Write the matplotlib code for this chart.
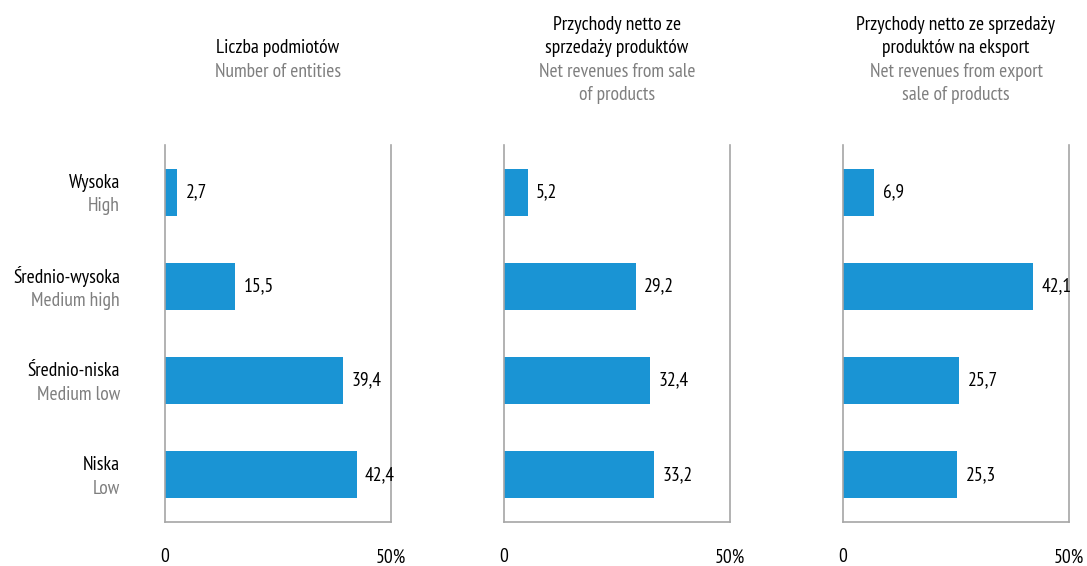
import matplotlib

matplotlib.use("Agg")
import matplotlib.pyplot as plt

# --------------------------------------------------------------------------- #
# Data
# --------------------------------------------------------------------------- #
levels_pl = ["Wysoka", "Średnio-wysoka", "Średnio-niska", "Niska"]
levels_en = ["High", "Medium high", "Medium low", "Low"]

titles_pl = [
    ["Liczba podmiotów"],
    ["Przychody netto ze", "sprzedaży produktów"],
    ["Przychody netto ze sprzedaży", "produktów na eksport"],
]
titles_en = [
    ["Number of entities"],
    ["Net revenues from sale", "of products"],
    ["Net revenues from export", "sale of products"],
]

entities = [2.7, 15.5, 39.4, 42.4]
revenues = [5.2, 29.2, 32.4, 33.2]
export = [6.9, 42.1, 25.7, 25.3]
series = [entities, revenues, export]

# --------------------------------------------------------------------------- #
# Style
# --------------------------------------------------------------------------- #
plt.rcParams["font.family"] = ["PT Sans Narrow", "DejaVu Sans"]
BAR = "#1a94d4"
GREY_TXT = "#7f7f7f"
SPINE = "#a6a6a6"
FS = 14

W, H = 1087, 566
fig = plt.figure(figsize=(W / 100, H / 100), dpi=100)

lefts_px = [165, 504, 843]
ax_w, top_px, bot_px = 226, 145, 522
ypos = list(range(len(levels_pl)))[::-1]  # top row first

for k, (vals, left) in enumerate(zip(series, lefts_px)):
    ax = fig.add_axes([left / W, 1 - bot_px / H, ax_w / W, (bot_px - top_px) / H])
    ax.barh(ypos, vals, height=0.5, color=BAR)
    ax.set_xlim(0, 50)
    ax.set_ylim(-0.5, 3.5)
    ax.set_yticks([])
    ax.set_xticks([0, 50], ["0", "50%"])
    ax.tick_params(axis="x", length=0, pad=19, labelsize=FS)
    ax.spines["top"].set_visible(False)
    for s in ("left", "right", "bottom"):
        ax.spines[s].set_color(SPINE)
        ax.spines[s].set_linewidth(1.2)

    for y, v in zip(ypos, vals):
        ax.annotate(f"{v:.1f}".replace(".", ","), (v, y), xytext=(6, 0),
                    textcoords="offset points", va="center", ha="left", fontsize=FS)

    if k == 0:
        tr = ax.get_yaxis_transform()
        for y, pl, en in zip(ypos, levels_pl, levels_en):
            ax.text(-0.199, y + 0.10, pl, transform=tr, ha="right", va="center",
                    fontsize=FS)
            ax.text(-0.199, y - 0.15, en, transform=tr, ha="right", va="center",
                    fontsize=FS, color=GREY_TXT)

    # two-language title, block centred vertically around y=60 px
    lines = [(t, "black") for t in titles_pl[k]] + [(t, GREY_TXT) for t in titles_en[k]]
    n = len(lines)
    cx = (left + ax_w / 2) / W
    for i, (txt, col) in enumerate(lines):
        ypx = 60 + (i - (n - 1) / 2) * 23.5
        fig.text(cx, 1 - ypx / H, txt, ha="center", va="center", fontsize=FS, color=col)

fig.savefig("out.png", dpi=100)
